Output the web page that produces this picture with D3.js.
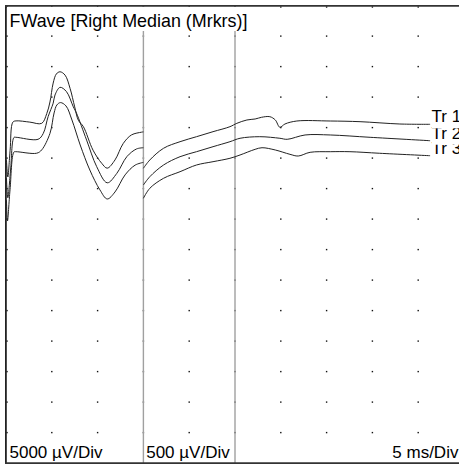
<!DOCTYPE html>
<html>
<head>
<meta charset="utf-8">
<script src="https://cdn.jsdelivr.net/npm/d3@7"></script>
<style>
    body { margin: 0; background: #fff; }
    svg { display: block; font-family: "Liberation Sans", Arial, sans-serif; }
</style>
</head>
<body>
<svg id="chart" width="459" height="466"></svg>
<script>
const titleText = "FWave [Right Median (Mrkrs)]";
const traceNames = ["Tr 1", "Tr 2", "Tr 3"];
const traceOffsetDiv = [4, 4.5, 5];
const gainLeft = 5000;   // µV/Div
const gainRight = 500;   // µV/Div
const msPerDiv = 5;
const markerTimes = [15, 25];
const scaleLabels = ["5000 µV/Div", "500 µV/Div", "5 ms/Div"];

// [ms, µV] — left segment (5000 µV/Div)
const tr1Left = [[0.05, -5300], [0.2, -8100], [0.45, -3700], [0.75, 900], [1.1, 1100], [2.6, 900], [3.9, 700],
    [4.45, 2300], [4.8, 4200], [5.15, 7300], [5.5, 8800], [5.9, 9150], [6.45, 8600], [7.0, 6400], [7.5, 3400],
    [7.9, 1200], [8.45, 150], [9.5, -3700], [10.45, -5850], [11.05, -6650], [11.9, -5300], [12.8, -2600],
    [13.7, -1200], [14.8, -750], [15, -700]];
const tr2Left = [[0.05, -5750], [0.2, -9000], [0.5, -4450], [0.87, 880], [1.1, 910], [3.5, 580], [4.07, 1550],
    [4.6, 4300], [5.15, 6500], [5.35, 7850], [5.9, 9100], [6.6, 8400], [7.35, 5900], [7.7, 4850], [8.8, 450],
    [9.9, -3900], [11.05, -6550], [12.1, -5000], [13.2, -2250], [14.25, -1000], [15, -800]];
const tr3Left = [[0.05, -6850], [0.16, -10300], [0.44, -5200], [0.87, 1000], [1.1, 1050], [3.35, 800], [3.9, 1350],
    [4.8, 4050], [5.25, 7400], [5.55, 8700], [5.95, 9100], [6.55, 8550], [7.2, 6250], [8.1, 2150], [9.15, -1950],
    [10.25, -5200], [11.05, -6700], [11.9, -5550], [13.0, -2750], [14.1, -1150], [15, -700]];

// [ms, µV] — right segment (500 µV/Div)
const tr1Right = [[15, -667], [15.7, -531], [17.2, -339], [19.0, -231], [20.8, -149], [22.6, -67], [24.45, 15],
    [25.2, 70], [26.3, 125], [27.2, 141], [27.9, 169], [28.8, 179], [29.4, 125], [29.9, 5], [30.45, 59],
    [31.75, 108], [35.4, 108], [38.65, 97], [43.0, 59], [46.3, 54]];
const tr2Right = [[15, -691], [15.7, -555], [17.2, -363], [19.0, -227], [20.8, -145], [22.6, -63], [24.45, 19],
    [25.55, 75], [27.7, 101], [29.9, 75], [30.7, 58], [32.65, 129], [35.4, 129], [39.75, 91], [46.3, 35]];
const tr3Right = [[15, -659], [15.7, -495], [17.2, -331], [19.0, -223], [20.8, -113], [22.6, -59], [24.45, -3],
    [25.55, 51], [27.2, 144], [27.95, 170], [29.4, 133], [31.0, 62], [31.9, 34], [33.2, 95], [35.4, 105],
    [37.55, 105], [40.8, 79], [46.3, 39]];

const leftSegments = [tr1Left, tr2Left, tr3Left];
const rightSegments = [tr1Right, tr2Right, tr3Right];

function drawWaveform(svgId) {
    const svg = d3.select(`#${svgId}`);

    // 10 divisions across, 15 down
    const xScale = d3.scaleLinear().domain([0, 10 * msPerDiv]).range([6, 464]);
    const yDiv = d3.scaleLinear().domain([0, 15]).range([5.6, 463.1]);

    // grid dots
    const cols = d3.range(0, 10);
    const rows = d3.range(0, 15);
    const dots = [];
    cols.forEach(c => rows.forEach(r => dots.push({ c, r })));
    svg.append('g').selectAll('rect')
        .data(dots)
        .enter()
        .append('rect')
        .attr('x', d => Math.max(xScale(c2t(d.c)), 7) - 0.7)
        .attr('y', d => Math.max(yDiv(d.r), 7) - 0.7)
        .attr('width', 1.4)
        .attr('height', 1.4)
        .style('fill', '#111');

    function c2t(c) { return c * msPerDiv; }

    // marker lines
    svg.append('g').selectAll('line')
        .data(markerTimes)
        .enter()
        .append('line')
        .attr('x1', d => xScale(d))
        .attr('x2', d => xScale(d))
        .attr('y1', yDiv(0))
        .attr('y2', yDiv(15))
        .style('stroke', '#a0a0a0')
        .style('stroke-width', 1.4);

    // traces
    const lineFor = gain => i => d3.line()
        .x(d => xScale(d[0]))
        .y(d => yDiv(traceOffsetDiv[i] - d[1] / gain))
        .curve(d3.curveCatmullRom.alpha(0.5));

    leftSegments.forEach((seg, i) => {
        svg.append('path').datum(seg)
            .attr('d', lineFor(gainLeft)(i))
            .style('fill', 'none').style('stroke', '#222').style('stroke-width', 1);
    });
    rightSegments.forEach((seg, i) => {
        svg.append('path').datum(seg)
            .attr('d', lineFor(gainRight)(i))
            .style('fill', 'none').style('stroke', '#222').style('stroke-width', 1);
    });

    // title
    svg.append('rect')
        .attr('x', 7).attr('y', 7).attr('width', 241).attr('height', 24)
        .style('fill', 'white');
    svg.append('text')
        .attr('x', 9.5).attr('y', 27.3)
        .text(titleText)
        .style('font-size', '17.9px')
        .style('fill', 'black');

    // scale labels
    const labelX = [9.5, xScale(markerTimes[0]) + 2.8, 392.3];
    svg.selectAll('.scale-label')
        .data(scaleLabels)
        .enter()
        .append('text')
        .attr('class', 'scale-label')
        .attr('x', (d, i) => labelX[i])
        .attr('y', 458.3)
        .text(d => d)
        .style('font-size', '17px')
        .style('fill', 'black');

    // frame: left, top, bottom
    svg.append('line').attr('x1', 5.9).attr('x2', 5.9).attr('y1', 5).attr('y2', 464)
        .style('stroke', '#222').style('stroke-width', 1.8);
    svg.append('line').attr('x1', 5).attr('x2', 459).attr('y1', 5.9).attr('y2', 5.9)
        .style('stroke', '#333').style('stroke-width', 1.8);
    svg.append('line').attr('x1', 5).attr('x2', 459).attr('y1', 463.1).attr('y2', 463.1)
        .style('stroke', '#333').style('stroke-width', 1.8);

    // trace labels, drawn bottom-up so each background hides the top of the one below
    d3.range(traceNames.length).reverse().forEach(i => {
        const last = rightSegments[i][rightSegments[i].length - 1];
        const lx = xScale(last[0]) + 1.5;
        const ly = yDiv(traceOffsetDiv[i] - last[1] / gainRight) - 2;
        svg.append('rect')
            .attr('x', lx).attr('y', ly - 14).attr('width', 459 - lx).attr('height', 20)
            .style('fill', 'white');
        svg.append('text')
            .attr('x', lx).attr('y', ly)
            .text(traceNames[i])
            .style('font-size', '17px')
            .style('fill', 'black');
    });
}

drawWaveform('chart');
</script>
</body>
</html>
